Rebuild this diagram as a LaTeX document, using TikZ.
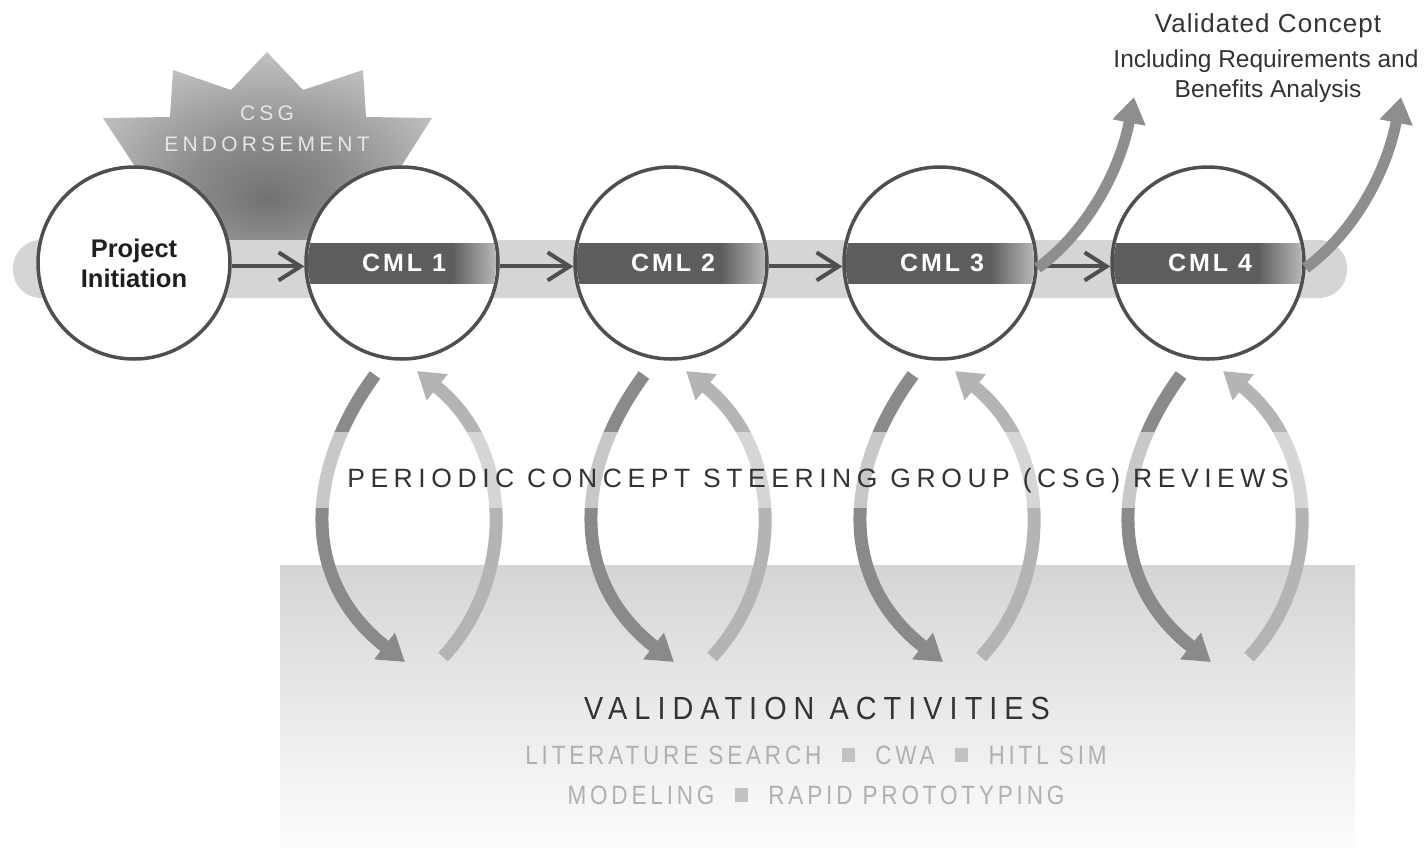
\documentclass[tikz,border=0pt]{standalone}
\usepackage{fontspec}
\setmainfont{Liberation Sans}
\usetikzlibrary{arrows.meta,calc}
\definecolor{circc}{HTML}{4E504E}
\definecolor{bandc}{HTML}{D4D6D4}
\definecolor{bardark}{HTML}{5C5E5C}
\definecolor{barlight}{HTML}{B4B4B4}
\definecolor{stardark}{HTML}{727272}
\definecolor{starmid}{HTML}{8C8C8C}
\definecolor{starlight}{HTML}{D0D0D0}
\definecolor{flowc}{HTML}{4E504E}
\definecolor{exitc}{HTML}{8E8E8E}
\definecolor{arcA}{HTML}{8A8A8A}
\definecolor{arcB}{HTML}{C8C8C8}
\definecolor{arcC}{HTML}{B4B4B4}
\definecolor{arcD}{HTML}{D6D6D6}
\definecolor{boxtop}{HTML}{D4D6D4}
\definecolor{boxbot}{HTML}{FCFCFC}
\definecolor{txtdark}{HTML}{333333}
\definecolor{txtlight}{HTML}{B0B0B0}
\definecolor{sqc}{HTML}{C2C2C2}
\definecolor{startxt}{HTML}{E6E6E6}
\pgfdeclarehorizontalshading{barshade}{100bp}{color(0bp)=(bardark); color(25bp)=(bardark); color(63bp)=(bardark); color(74bp)=(barlight); color(100bp)=(barlight)}
\pgfdeclareradialshading{starshade}{\pgfpoint{0bp}{-10bp}}{color(0bp)=(stardark); color(12bp)=(starmid); color(34bp)=(starlight); color(50bp)=(starlight)}
\newcommand\sqbox{\raisebox{0.07em}{\textcolor{sqc}{\rule{0.6em}{0.52em}}}}
\newcommand\bandarc[4]{%
  \begin{scope}\clip (0,300) rectangle (1427,432); \draw[arcline,draw=#2] #1; \end{scope}
  \begin{scope}\clip (0,432) rectangle (1427,508); \draw[arcline,draw=#3] #1; \end{scope}
  \begin{scope}\clip (0,508) rectangle (1427,720); \draw[arcline,draw=#4] #1; \end{scope}}
\begin{document}
\begin{tikzpicture}[x=1pt,y=-1pt,
  circ/.style={circle,draw=circc,line width=3.5pt,minimum size=192pt,inner sep=0pt,fill=white},
  cmltxt/.style={text=white,font=\fontsize{25}{25}\selectfont\bfseries\addfontfeatures{LetterSpace=12}},
  projtxt/.style={text=black!88,align=center,font=\fontsize{25.5}{30}\selectfont\bfseries},
  flow/.style={draw=flowc,line width=4pt,-{Straight Barb[length=22pt,width=28pt]}},
  exitarrow/.style={draw=exitc,line width=11pt,-{Triangle[length=26pt,width=32pt]}},
  arcline/.style={line width=13pt,-{Triangle[length=26pt,width=32pt]}},
  valbox/.style={minimum width=1075pt,minimum height=282pt,inner sep=0pt,top color=boxtop,bottom color=boxbot,draw=none},
  startext/.style={text=startxt,font=\fontsize{21}{21}\selectfont\addfontfeatures{LetterSpace=20}},
  periotxt/.style={anchor=base,text=txtdark,font=\fontsize{26.5}{26.5}\selectfont\addfontfeatures{LetterSpace=21}},
  valtitle/.style={anchor=base,text=txtdark,font=\fontsize{32}{32}\selectfont\addfontfeatures{LetterSpace=24.5}},
  valitem/.style={anchor=base,text=txtlight,font=\fontsize{26.5}{26.5}\selectfont\addfontfeatures{LetterSpace=17}},
  vctxt/.style={anchor=base,text=txtdark,font=\fontsize{26}{26}\selectfont\addfontfeatures{LetterSpace=4}},
  vcsub/.style={anchor=base,text=txtdark,font=\fontsize{24.5}{24.5}\selectfont}]
\useasboundingbox (0,0) rectangle (1427,847);
% validation area
\node[valbox] (val) at (817.5,706) {};
% starburst
\shade[shading=starshade] (267,52) -- (303,90) -- (363,70) -- (366,117) -- (432,118) -- (402,165) -- (402,262) -- (134,262) -- (134,165) -- (103,118) -- (170,117) -- (173,70) -- (231,90) -- cycle;
% band
\fill[bandc,rounded corners=28pt] (13,240) rectangle (1347,298);
% circles
\node[circ,projtxt] (c0) at (134,263) {Project\\Initiation};
\foreach \n/\x in {1/402,2/671,3/940,4/1208}{
  \node[circ] (c\n) at (\x,263) {};
  \begin{scope}
    \clip (c\n.center) circle[radius=94pt];
    \shade[shading=barshade] ($(c\n.center)+(-96,-20)$) rectangle ($(c\n.center)+(96,20)$);
  \end{scope}
  \node[cmltxt] (t\n) at ($(c\n.center)+(2,0)$) {CML \n};
}
% flow arrows
\draw[flow] (c0.-2) -- (c1.182);
\draw[flow] (c1.-2) -- (c2.182);
\draw[flow] (c2.-2) -- (c3.182);
\draw[flow] (c3.-2) -- (c4.182);
% exit arrows
\coordinate (v1) at (1134,97);
\coordinate (v2) at (1401,97);
\draw[exitarrow] (c3.-3) .. controls +(50,-37) and +(-14,73) .. (v1);
\draw[exitarrow] (c4.-3) .. controls +(50,-37) and +(-14,73) .. (v2);
% review arcs
\foreach \cx in {402,671,940,1208}{
  \bandarc{({\cx-27},375) .. controls ({\cx-97},470) and ({\cx-102},580) .. ({\cx+3},662)}{arcA}{arcB}{arcA}
  \bandarc{({\cx+41},657) .. controls ({\cx+113},580) and ({\cx+113},450) .. ({\cx+15},371)}{arcC}{arcD}{arcC}
}
% texts
\node[startext] (csg) at (267,113) {CSG};
\node[startext] (endo) at (267,144) {ENDORSEMENT};
\node[periotxt] (per) at (818,487) {PERIODIC CONCEPT STEERING GROUP (CSG) REVIEWS};
\node[valtitle] (vt) at (817,719) {\scalebox{0.9}[1]{VALIDATION ACTIVITIES}};
\node[valitem] (vi1) at (816,764) {\scalebox{0.85}[1]{LITERATURE SEARCH \ \sqbox\ \ CWA \ \sqbox\ \ HITL SIM}};
\node[valitem] (vi2) at (816,804) {\scalebox{0.85}[1]{MODELING \ \sqbox\ \ RAPID PROTOTYPING}};
\node[vctxt] (vc1) at (1268,32) {Validated Concept};
\node[vcsub] (vc2) at (1266,67) {Including Requirements and};
\node[vcsub] (vc3) at (1268,97) {Benefits Analysis};
\end{tikzpicture}
\end{document}
